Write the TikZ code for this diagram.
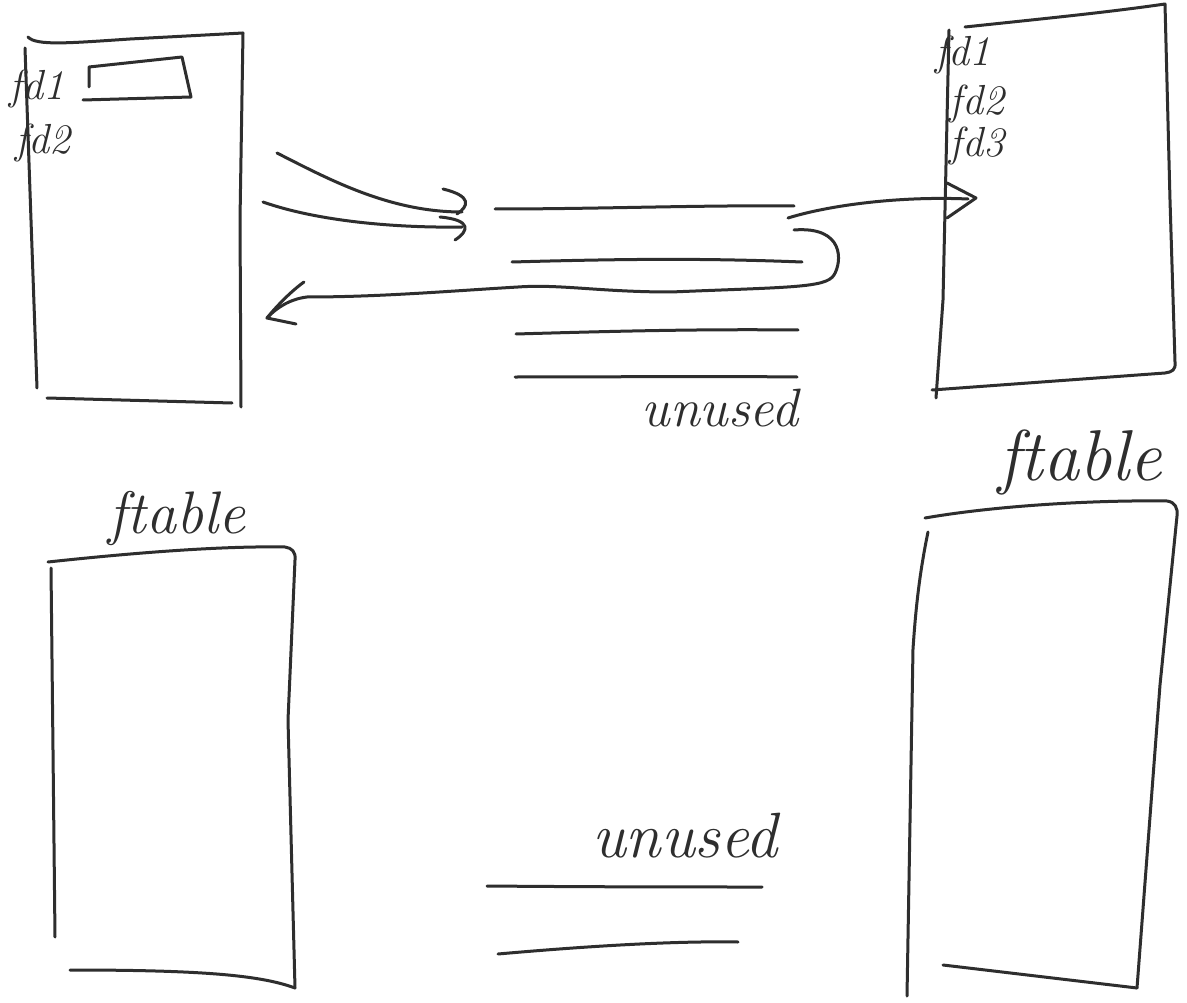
\documentclass[tikz,border=0pt]{standalone}
\usepackage{fontspec}
\usetikzlibrary{arrows.meta}
\begin{document}
\begin{tikzpicture}[x=1pt,y=-1pt,
  pen/.style={line width=3pt,line cap=round,line join=round,draw=black!82},
  hand/.style={font=\itshape, inner sep=0pt, text=black!82},
  lbl/.style={hand,font=\itshape\fontsize{42}{42}\selectfont}]
\useasboundingbox[fill=white] (0,0) rectangle (1187,1003);

% ---------- top-left process table ----------
\draw[pen] (28,37) .. controls (36,46) and (70,43) .. (130,39) -- (243,33);
\draw[pen] (25,48) -- (31,220) -- (37,388);
\draw[pen] (243,33) -- (240,220) -- (241,407);
\draw[pen] (47,398) -- (232,403);
\draw[pen] (89,87) -- (89,67) -- (182,57) -- (191,97) -- (83,100);
\node[lbl] (tlfd1) at (37,89) {fd1};
\node[lbl] (tlfd2) at (43,143) {fd2};

% ---------- incoming arrows ----------
\coordinate (in1s) at (277,153);
\coordinate (in1e) at (462,212);
\coordinate (in2s) at (263,202);
\coordinate (in2e) at (462,227);
\draw[pen] (in1s) .. controls (330,180) and (390,212) .. (in1e);
\draw[pen] (443,189) .. controls (472,196) and (469,206) .. (457,214);
\draw[pen] (in2s) .. controls (320,222) and (400,228) .. (in2e);
\draw[pen] (440,217) .. controls (472,220) and (469,231) .. (455,240);

% ---------- buffer lines ----------
\draw[pen] (495,209) .. controls (600,209) and (700,205) .. (794,206);
\draw[pen] (512,262) .. controls (620,259) and (700,258) .. (802,262);
\draw[pen] (516,334) .. controls (620,331) and (700,329) .. (798,330);
\draw[pen] (515,377) .. controls (620,377) and (700,376) .. (797,377);
\node[hand,font=\itshape\fontsize{54}{54}\selectfont] (unused1) at (720,408) {unused};

% ---------- return arrow ----------
\coordinate (rets) at (794,230);
\coordinate (rete) at (267,318);
\draw[pen] (rets) .. controls (845,226) and (842,262) .. (834,275)
  .. controls (826,288) and (790,287) .. (671,292)
  .. controls (600,292) and (560,284) .. (518,287)
  .. controls (450,291) and (380,297) .. (307,297)
  .. controls (290,299) and (276,308) .. (rete);
\draw[pen] (304,282) .. controls (290,292) and (275,308) .. (rete) -- (296,324);

% ---------- outgoing arrow ----------
\coordinate (outs) at (788,218);
\coordinate (oute) at (968,199);
\draw[pen] (outs) .. controls (830,205) and (900,196) .. (oute);
\draw[pen] (947,183) -- (976,198) -- (947,218);

% ---------- top-right process table ----------
\draw[pen] (965,27) .. controls (1050,18) and (1110,12) .. (1165,4) -- (1170,200) -- (1175,362)
  .. controls (1176,370) and (1172,372) .. (1165,373) -- (932,390);
\draw[pen] (949,30) -- (943,300) -- (936,398);
\node[lbl] (trfd1) at (963,55) {fd1};
\node[lbl] (trfd2) at (977,104) {fd2};
\node[lbl] (trfd3) at (977,146) {fd3};

% ---------- bottom-left file table ----------
\draw[pen] (48,562) .. controls (150,551) and (230,546) .. (285,547)
  .. controls (292,548) and (296,552) .. (295,560) -- (288,720) -- (295,988);
\draw[pen] (70,970) .. controls (200,970) and (260,975) .. (295,988);
\draw[pen] (51,568) -- (53,750) -- (55,937);
\node[hand,font=\itshape\fontsize{60}{60}\selectfont] (ft1) at (177,518) {ftable};

% ---------- bottom-right file table ----------
\draw[pen] (925,518) .. controls (1000,505) and (1100,500) .. (1167,501)
  .. controls (1175,502) and (1178,508) .. (1177,516) -- (1160,685) -- (1137,988);
\draw[pen] (943,965) -- (1137,988);
\draw[pen] (928,532) .. controls (918,580) and (915,620) .. (913,649) -- (907,996);
\node[hand,font=\itshape\fontsize{72}{72}\selectfont] (ft2) at (1080,462) {ftable};

% ---------- bottom unused ----------
\node[hand,font=\itshape\fontsize{64}{64}\selectfont] (unused2) at (685,836) {unused};
\draw[pen] (487,886) .. controls (600,887) and (700,887) .. (762,887);
\draw[pen] (498,954) .. controls (600,945) and (680,941) .. (738,942);
\end{tikzpicture}
\end{document}
